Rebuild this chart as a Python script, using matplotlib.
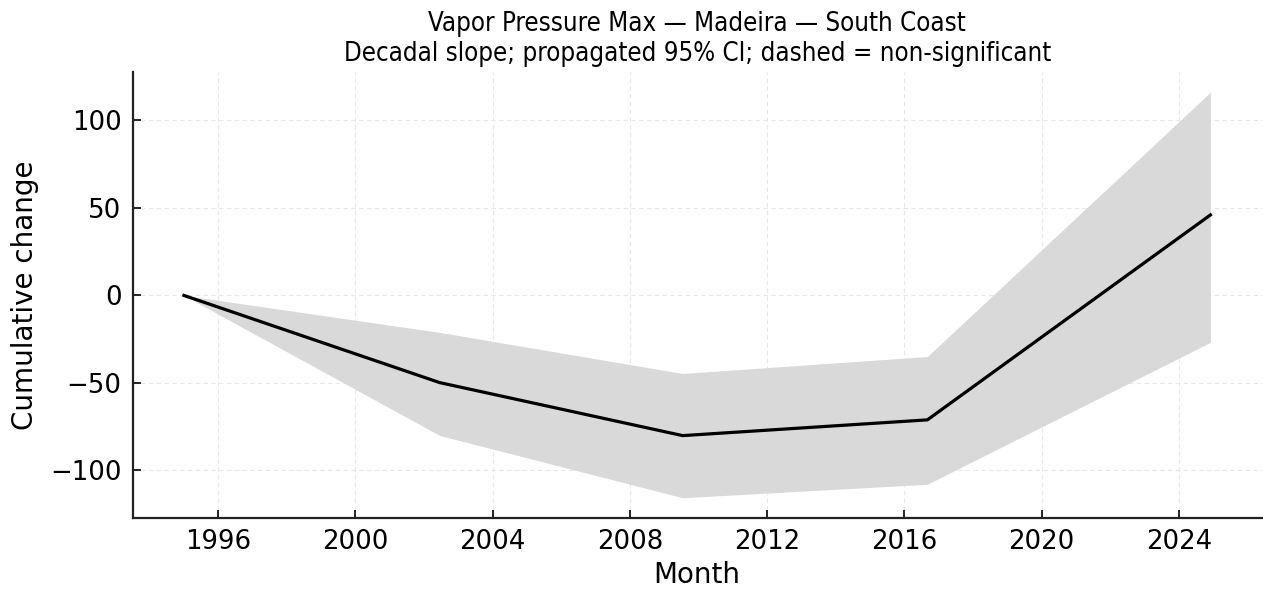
import matplotlib
matplotlib.use("Agg")
import matplotlib.pyplot as plt
import matplotlib.dates as mdates
import numpy as np
import pandas as pd

# Segment breakpoints (monthly series) and cumulative change with propagated 95% CI
breakpoints = ["1995-01-01", "2002-06-15", "2009-07-15", "2016-09-01", "2024-12-01"]
cumulative = [0.0, -49.8, -80.1, -71.1, 46.0]
ci_lower = [0.0, -80.0, -115.6, -107.9, -26.8]
ci_upper = [0.0, -21.1, -44.6, -34.9, 116.1]

dates = pd.to_datetime(breakpoints)

fig = plt.figure(figsize=(12.63, 5.90), dpi=100)
ax = fig.add_axes([0.105, 0.122, 0.894, 0.756])

ax.fill_between(dates, ci_lower, ci_upper, color="#d9d9d9", linewidth=0)
ax.plot(dates, cumulative, color="black", linewidth=2.3, solid_joinstyle="round")

ax.grid(True, linestyle=(0, (4, 3)), color="#e8e8e8", linewidth=0.8)
ax.set_axisbelow(True)

for side in ("top", "right"):
    ax.spines[side].set_visible(False)
for side in ("left", "bottom"):
    ax.spines[side].set_linewidth(1.6)
    ax.spines[side].set_color("#222222")

ax.tick_params(direction="in", length=6, width=1.2, labelsize=18.7, pad=8)
ax.xaxis.set_major_locator(mdates.YearLocator(4))
ax.xaxis.set_major_formatter(mdates.DateFormatter("%Y"))
ax.set_yticks([-100, -50, 0, 50, 100])

ax.set_xlabel("Month", fontsize=20, labelpad=4)
ax.set_ylabel("Cumulative change", fontsize=20, labelpad=8)
ax.set_title("Vapor Pressure Max — Madeira — South Coast\n"
             "Decadal slope; propagated 95% CI; dashed = non-significant",
             fontsize=18.5, stretch="condensed", pad=8)

fig.savefig("out.png", dpi=100)
